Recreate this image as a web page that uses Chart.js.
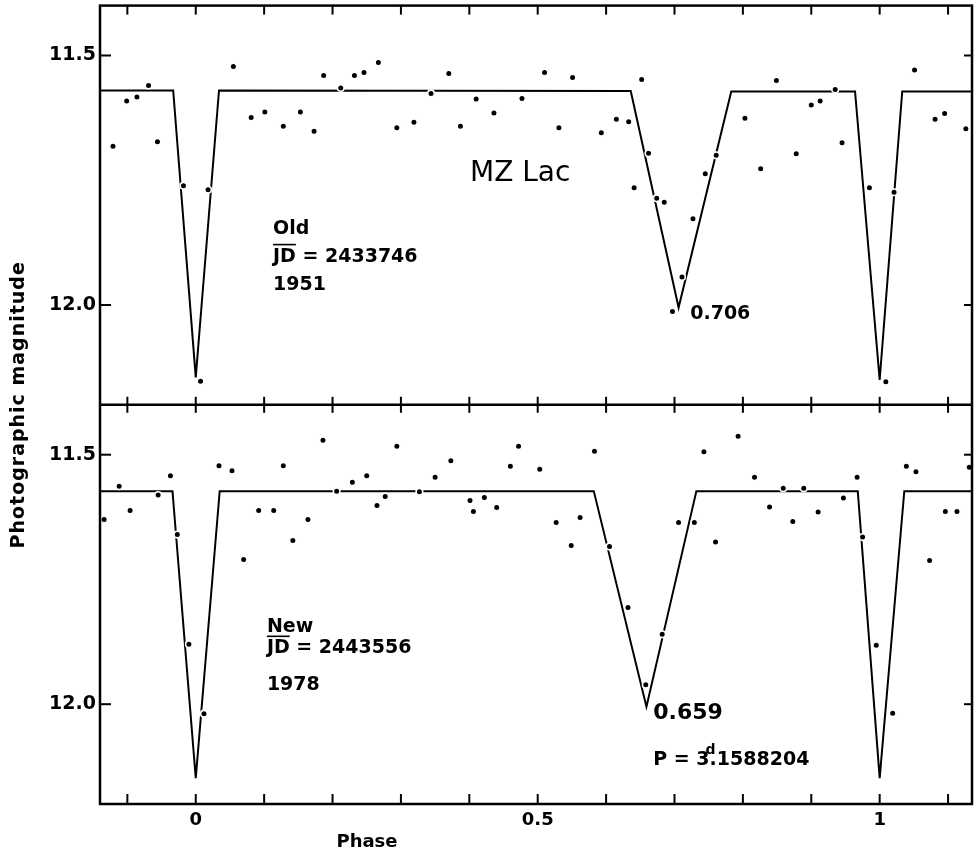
<!DOCTYPE html>
<html>
<head>
<meta charset="utf-8">
<title>MZ Lac</title>
<script src="https://cdn.jsdelivr.net/npm/chart.js@4.4.1/dist/chart.umd.min.js"></script>
<style>
  html, body { margin: 0; padding: 0; background: #fff; }
  #wrap { position: relative; width: 978px; height: 856px; }
</style>
</head>
<body>
<div id="wrap"><canvas id="lightCurve"></canvas></div>
<script>
// Old light curve (JD 2433746, 1951)
const oldPhase = [-0.121, -0.101, -0.086, -0.069, -0.056, -0.018, 0.007, 0.018, 0.055, 0.081,
  0.101, 0.128, 0.153, 0.173, 0.187, 0.212, 0.232, 0.246, 0.267, 0.294,
  0.319, 0.344, 0.370, 0.387, 0.410, 0.436, 0.477, 0.510, 0.531, 0.551,
  0.593, 0.615, 0.633, 0.641, 0.652, 0.662, 0.674, 0.685, 0.697, 0.711,
  0.727, 0.745, 0.761, 0.803, 0.826, 0.849, 0.878, 0.900, 0.913, 0.935,
  0.945, 0.985, 1.009, 1.021, 1.051, 1.081, 1.095, 1.126];
const oldMag = [11.682, 11.591, 11.583, 11.560, 11.673, 11.761, 12.153, 11.769, 11.522, 11.624,
  11.613, 11.642, 11.613, 11.652, 11.540, 11.565, 11.540, 11.534, 11.514, 11.645,
  11.634, 11.576, 11.536, 11.642, 11.587, 11.615, 11.586, 11.534, 11.645, 11.544,
  11.655, 11.628, 11.633, 11.765, 11.548, 11.696, 11.786, 11.794, 12.013, 11.944,
  11.827, 11.737, 11.700, 11.626, 11.727, 11.550, 11.697, 11.599, 11.591, 11.568,
  11.675, 11.765, 12.154, 11.774, 11.529, 11.628, 11.616, 11.647];

// New light curve (JD 2443556, 1978)
const newPhase = [-0.134, -0.112, -0.096, -0.055, -0.037, -0.027, -0.010, 0.012, 0.034, 0.053,
  0.070, 0.092, 0.114, 0.128, 0.142, 0.164, 0.186, 0.206, 0.229, 0.250,
  0.265, 0.277, 0.294, 0.327, 0.350, 0.373, 0.401, 0.406, 0.422, 0.440,
  0.460, 0.472, 0.503, 0.527, 0.549, 0.562, 0.583, 0.605, 0.632, 0.658,
  0.682, 0.706, 0.729, 0.743, 0.760, 0.793, 0.817, 0.839, 0.859, 0.873,
  0.889, 0.910, 0.947, 0.967, 0.975, 0.995, 1.019, 1.039, 1.053, 1.073,
  1.096, 1.113, 1.131];
const newMag = [11.630, 11.563, 11.612, 11.581, 11.542, 11.660, 11.880, 12.019, 11.522, 11.532,
  11.710, 11.612, 11.612, 11.522, 11.672, 11.630, 11.471, 11.573, 11.555, 11.542,
  11.602, 11.584, 11.483, 11.574, 11.545, 11.512, 11.592, 11.614, 11.586, 11.606,
  11.523, 11.483, 11.529, 11.636, 11.682, 11.626, 11.493, 11.684, 11.806, 11.961,
  11.860, 11.636, 11.636, 11.494, 11.675, 11.463, 11.545, 11.605, 11.567, 11.634,
  11.567, 11.615, 11.587, 11.545, 11.665, 11.882, 12.018, 11.523, 11.534, 11.712,
  11.614, 11.614, 11.525];

// model light curves (straight-line eclipses)
const oldModelPhase = [-0.14, -0.033, 0.0, 0.034, 0.636, 0.706, 0.783, 0.964, 1.0, 1.033, 1.135];
const oldModelMag = [11.570, 11.570, 12.145, 11.570, 11.571, 12.005, 11.572, 11.572, 12.150, 11.572, 11.572];
const newModelPhase = [-0.14, -0.034, 0.0, 0.035, 0.582, 0.659, 0.732, 0.968, 1.0, 1.036, 1.135];
const newModelMag = [11.573, 11.573, 12.148, 11.573, 11.573, 12.005, 11.573, 11.573, 12.148, 11.573, 11.573];

// axes
const xTickValues = [-0.1, 0, 0.1, 0.2, 0.3, 0.4, 0.5, 0.6, 0.7, 0.8, 0.9, 1, 1.1];
const xLabelValues = [0, 0.5, 1];
const yTickValues = [11.5, 12.0];

const toPoints = (xs, ys) => xs.map((v, i) => ({ x: v, y: ys[i] }));

const FONT = "'DejaVu Sans', 'Liberation Sans', Arial, sans-serif";

// text placed in data coordinates of each panel
const notes = [
  { axis: "yTop", x: 0.401, y: 11.736, text: "MZ Lac", font: "28px " + FONT },
  { axis: "yTop", x: 0.113, y: 11.847, text: "Old", font: "bold 19px " + FONT },
  { axis: "yTop", x: 0.113, y: 11.903, text: "JD = 2433746", font: "bold 19px " + FONT, bar: "JD" },
  { axis: "yTop", x: 0.113, y: 11.961, text: "1951", font: "bold 19px " + FONT },
  { axis: "yTop", x: 0.723, y: 12.019, text: "0.706", font: "bold 19px " + FONT },
  { axis: "yBottom", x: 0.104, y: 11.846, text: "New", font: "bold 19px " + FONT },
  { axis: "yBottom", x: 0.104, y: 11.888, text: "JD = 2443556", font: "bold 19px " + FONT, bar: "JD" },
  { axis: "yBottom", x: 0.104, y: 11.962, text: "1978", font: "bold 19px " + FONT },
  { axis: "yBottom", x: 0.669, y: 12.018, text: "0.659", font: "bold 22px " + FONT },
];

function seg(ctx, x1, y1, x2, y2) {
  ctx.beginPath();
  ctx.moveTo(x1, y1);
  ctx.lineTo(x2, y2);
  ctx.stroke();
}

const framePlugin = {
  id: "frame",
  afterDraw(chart) {
    const { ctx, chartArea: a } = chart;
    const { x, yTop, yBottom } = chart.scales;
    const mid = yTop.bottom;
    ctx.save();
    ctx.strokeStyle = "#000";
    ctx.fillStyle = "#000";
    ctx.lineWidth = 2.5;
    ctx.strokeRect(a.left, a.top, a.width, a.height);
    seg(ctx, a.left, mid, a.right, mid);

    // inward tick marks
    ctx.lineWidth = 2;
    xTickValues.forEach(v => {
      const px = x.getPixelForValue(v);
      seg(ctx, px, a.top, px, a.top + 9);
      seg(ctx, px, mid - 8, px, mid + 8);
      seg(ctx, px, a.bottom - 10, px, a.bottom);
    });
    [yTop, yBottom].forEach(s => {
      yTickValues.forEach(v => {
        const py = s.getPixelForValue(v);
        seg(ctx, a.left, py, a.left + 11, py);
        seg(ctx, a.right - 8, py, a.right, py);
      });
    });

    // annotations
    ctx.textBaseline = "middle";
    ctx.textAlign = "left";
    notes.forEach(n => {
      const s = chart.scales[n.axis];
      const px = x.getPixelForValue(n.x);
      const py = s.getPixelForValue(n.y);
      ctx.font = n.font;
      ctx.fillText(n.text, px, py);
      if (n.bar) {
        const w = ctx.measureText(n.bar).width;
        ctx.lineWidth = 1.6;
        seg(ctx, px, py - 12, px + w, py - 12);
      }
    });

    // period: P = 3^d.1588204
    {
      const px = x.getPixelForValue(0.669);
      const py = yBottom.getPixelForValue(12.112);
      ctx.font = "bold 19px " + FONT;
      const head = "P = 3";
      ctx.fillText(head, px, py);
      const px2 = px + ctx.measureText(head).width;
      ctx.fillText(".", px2, py);
      const dotW = ctx.measureText(".").width;
      ctx.fillText("1588204", px2 + dotW, py);
      ctx.font = "bold 14px " + FONT;
      ctx.fillText("d", px2 - 4, py - 10);
    }

    // axis titles
    ctx.font = "bold 18px " + FONT;
    ctx.textAlign = "center";
    ctx.fillText("Phase", 367, 842);
    ctx.save();
    ctx.translate(19, (a.top + a.bottom) / 2);
    ctx.rotate(-Math.PI / 2);
    ctx.font = "bold 19px " + FONT;
    if ("letterSpacing" in ctx) ctx.letterSpacing = "1px";
    ctx.fillText("Photographic magnitude", 0, 0);
    ctx.restore();
    ctx.restore();
  }
};

const yAxis = () => ({
  type: "linear",
  position: "left",
  stack: "mag",
  stackWeight: 1,
  reverse: true,
  min: 11.4,
  max: 12.2,
  grid: { display: false, drawTicks: false },
  border: { display: false },
  afterBuildTicks: s => { s.ticks = yTickValues.map(v => ({ value: v })); },
  afterFit: s => { s.width = 100; s.paddingTop = 0; s.paddingBottom = 0; },
  ticks: {
    color: "#000",
    padding: 4,
    font: { family: FONT, size: 19, weight: "bold" },
    callback: v => Number(v).toFixed(1)
  }
});

const pointStyle = {
  showLine: false,
  pointRadius: 3.3,
  pointBorderWidth: 1.6,
  pointBackgroundColor: "#000",
  pointBorderColor: "#fff",
  order: 0
};
const lineStyle = {
  showLine: true,
  borderColor: "#000",
  borderWidth: 2,
  pointRadius: 0,
  tension: 0,
  order: 1
};

new Chart(document.getElementById("lightCurve"), {
  type: "scatter",
  data: {
    datasets: [
      { label: "Old", data: toPoints(oldPhase, oldMag), yAxisID: "yTop", ...pointStyle },
      { label: "New", data: toPoints(newPhase, newMag), yAxisID: "yBottom", ...pointStyle },
      { label: "Old model", data: toPoints(oldModelPhase, oldModelMag), yAxisID: "yTop", ...lineStyle },
      { label: "New model", data: toPoints(newModelPhase, newModelMag), yAxisID: "yBottom", ...lineStyle },
    ],
  },
  options: {
    responsive: true,
    maintainAspectRatio: false,
    animation: false,
    layout: { padding: { top: 5, right: 6, left: 0, bottom: 0 } },
    plugins: { legend: { display: false }, tooltip: { enabled: false } },
    scales: {
      x: {
        type: "linear",
        position: "bottom",
        min: -0.14,
        max: 1.135,
        grid: { display: false, drawTicks: false },
        border: { display: false },
        afterBuildTicks: s => { s.ticks = xTickValues.map(v => ({ value: v })); },
        afterFit: s => { s.height = 52; s.paddingLeft = 0; s.paddingRight = 0; },
        ticks: {
          color: "#000",
          padding: 6,
          autoSkip: false,
          maxRotation: 0,
          font: { family: FONT, size: 18, weight: "bold" },
          callback: v => (xLabelValues.includes(v) ? String(v) : "")
        }
      },
      yBottom: yAxis(),
      yTop: yAxis(),
    },
  },
  plugins: [framePlugin],
});
</script>
</body>
</html>
